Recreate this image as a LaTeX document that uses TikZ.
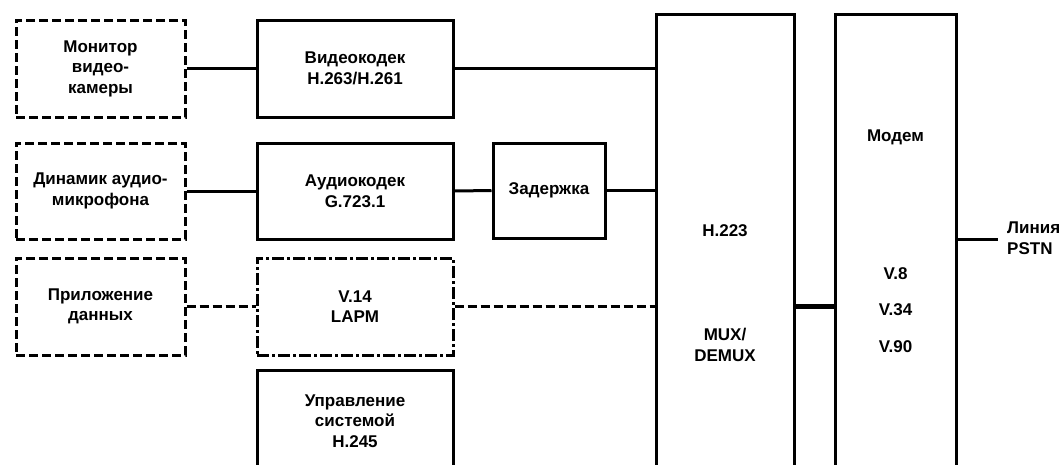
\documentclass[tikz,border=0pt]{standalone}
\usepackage{fontspec}
\setmainfont{Liberation Sans}
\usetikzlibrary{calc}
\begin{document}
\begin{tikzpicture}[x=1pt,y=-1pt,
  lw/.style={line width=3pt},
  txt/.style={font=\fontsize{17}{20.5}\selectfont\bfseries},
  blk/.style={draw,lw,rectangle,inner sep=0pt,align=center,txt},
  optblk/.style={blk,dash pattern=on 9pt off 4pt},
  dotblk/.style={blk,dash pattern=on 12pt off 3pt on 3pt off 3pt},
  lbl/.style={inner sep=0pt,align=center,txt},
  conn/.style={lw},
  dconn/.style={lw,dash pattern=on 9pt off 4pt},
  bus/.style={line width=5pt}
]
\useasboundingbox[fill=white] (0,0) rectangle (1063,464);
\clip (0,0) rectangle (1063,464);
% left column
\node[optblk,minimum width=169pt,minimum height=97pt] (mon) at (100.5,68.5) {Монитор\\видео-\\камеры};
\node[optblk,minimum width=169pt,minimum height=96pt] (dyn) at (100.5,191) {Динамик аудио-\\микрофона};
\node[optblk,minimum width=169pt,minimum height=97pt] (dat) at (100.5,306.5) {Приложение\\данных};
% middle column
\node[blk,minimum width=196pt,minimum height=97pt] (vid) at (355,68.5) {Видеокодек\\H.263/H.261};
\node[blk,minimum width=196pt,minimum height=96pt] (aud) at (355,191) {Аудиокодек\\G.723.1};
\node[dotblk,minimum width=196pt,minimum height=97pt] (v14) at (355,306.5) {V.14\\LAPM};
\node[blk,minimum width=196pt,minimum height=130pt] (ctl) at (355,435) {};
\node[lbl] (ctlt) at (355,421) {Управление\\системой\\H.245};
\node[blk,minimum width=112pt,minimum height=95pt] (del) at (549,190.5) {Задержка};
% mux
\node[blk,minimum width=138pt,minimum height=486pt] (mux) at (725,257) {};
\node[lbl] (muxa) at (725,231) {H.223};
\node[lbl] (muxb) at (725,345) {MUX/\\DEMUX};
% modem
\node[blk,minimum width=121pt,minimum height=486pt] (mod) at (895.5,257) {};
\node[lbl] (moda) at (895.5,137) {Модем};
\node[lbl] (modb) at (895.5,274) {V.8};
\node[lbl] (modc) at (895.5,310) {V.34};
\node[lbl] (modd) at (895.5,347) {V.90};
% PSTN
\coordinate (pe) at (998,239);
\node[lbl,anchor=west,align=left] (pstn) at (1007,238) {Линия\\PSTN};
% connectors
\draw[conn] (mon.east) -- (vid.west);
\draw[conn] (vid.east) -- (mux.west |- vid.east);
\draw[conn] (dyn.east) -- (aud.west);
\draw[conn] (aud.east) -- (del.west);
\draw[conn] (del.east) -- (mux.west |- del.east);
\draw[dconn] (dat.east) -- (v14.west);
\draw[dconn] (v14.east) -- (mux.west |- v14.east);
\draw[bus] (mux.east |- v14.east) -- (mod.west |- v14.east);
\draw[conn] (mod.east |- pe) -- (pe);
\end{tikzpicture}
\end{document}
